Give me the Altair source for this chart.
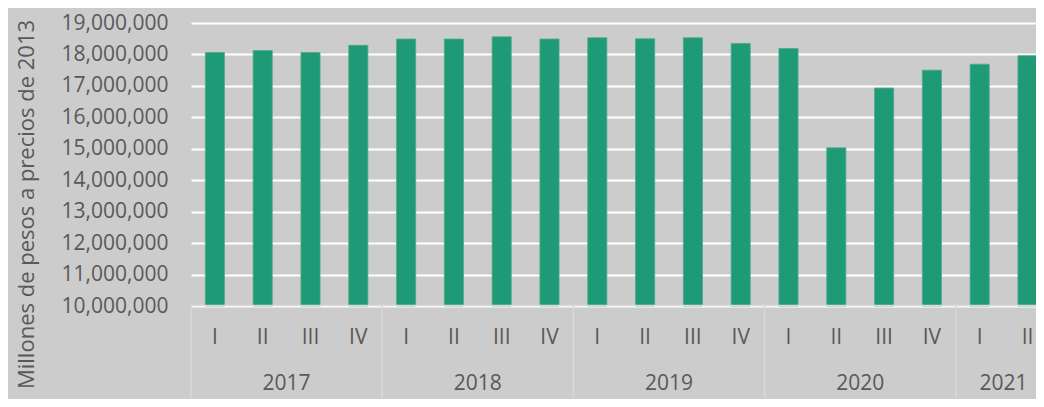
import altair as alt
import pandas as pd

# ---- data ----
years = ["2017"] * 4 + ["2018"] * 4 + ["2019"] * 4 + ["2020"] * 4 + ["2021"] * 2
quarters = ["I", "II", "III", "IV"] * 4 + ["I", "II"]
values = [18060000, 18125000, 18060000, 18290000,
          18490000, 18490000, 18560000, 18490000,
          18530000, 18500000, 18530000, 18350000,
          18190000, 15030000, 16930000, 17500000,
          17690000, 17960000]
year_labels = ["2017", "2018", "2019", "2020", "2021"]
year_counts = [4, 4, 4, 4, 2]
y_title = "Millones de pesos a precios de 2013"

df = pd.DataFrame({"year": years, "quarter": quarters, "value": values})
df["idx"] = range(len(df))

starts = []
s = 0
for c in year_counts:
    starts.append(s)
    s += c
ydf = pd.DataFrame({"year": year_labels, "start": starts, "count": year_counts})

N = len(df)
STEP = 47.8          # pixels per category slot
PLOT_W = 845         # visible part of the plot
PLOT_H = 283
FONT = "Open Sans"
TXT = "#595959"
LINE = "#d9d9d9"

xscale = alt.Scale(domain=[0, PLOT_W / STEP], nice=False, zero=False)
yscale = alt.Scale(domain=[10000000, 19000000], nice=False, zero=False)

bars = alt.Chart(df).transform_calculate(
    x0="datum.idx + 0.3", x1="datum.idx + 0.7", base="10000000"
).mark_bar(color="#1e9a77", stroke="#4fab8c", strokeWidth=0.8).encode(
    x=alt.X("x0:Q", scale=xscale, axis=None),
    x2="x1:Q",
    y=alt.Y("value:Q", scale=yscale,
            axis=alt.Axis(format=",d", values=list(range(10000000, 19000001, 1000000)),
                          grid=True, gridColor="white", gridWidth=2,
                          domain=False, ticks=False,
                          labelFont=FONT, labelFontSize=21, labelColor=TXT,
                          labelPadding=23,
                          title=y_title, titleFont=FONT, titleFontSize=22,
                          titleColor=TXT, titleFontWeight="normal",
                          titleAngle=270, titleBaseline="alphabetic",
                          titleAlign="center",
                          titleX=-158, titleY=181)),
    y2="base:Q",
)

qlabels = alt.Chart(df).transform_calculate(
    xc="datum.idx + 0.5"
).mark_text(font=FONT, fontSize=21, color=TXT, baseline="alphabetic", align="center").encode(
    x=alt.X("xc:Q", scale=xscale),
    y=alt.value(PLOT_H + 38),
    text="quarter:N",
)

ylabels = alt.Chart(ydf).transform_calculate(
    xc="datum.start + datum.count / 2"
).mark_text(font=FONT, fontSize=21, color=TXT, baseline="alphabetic", align="center").encode(
    x=alt.X("xc:Q", scale=xscale),
    y=alt.value(PLOT_H + 84),
    text="year:N",
)

dividers = alt.Chart(ydf).mark_rule(color=LINE, strokeWidth=1.5).encode(
    x=alt.X("start:Q", scale=xscale),
    y=alt.value(PLOT_H),
    y2=alt.value(PLOT_H + 92),
)

domain_line = alt.Chart(ydf).transform_aggregate(
    lo="min(start)"
).transform_calculate(hi=str(N)).mark_rule(color=LINE, strokeWidth=1.5).encode(
    x=alt.X("lo:Q", scale=xscale),
    x2="hi:Q",
    y=alt.value(PLOT_H - 0.5),
)

chart = alt.layer(bars, domain_line, dividers, qlabels, ylabels).properties(
    width=PLOT_W,
    height=PLOT_H,
    background="#cccccc",
    padding={"left": 183, "top": 15, "right": 0, "bottom": 93},
    autosize=alt.AutoSizeParams(type="none"),
).configure_view(stroke=None, fill="#cccccc")

chart.save("out.html", embed_options={"renderer": "svg", "actions": False})
